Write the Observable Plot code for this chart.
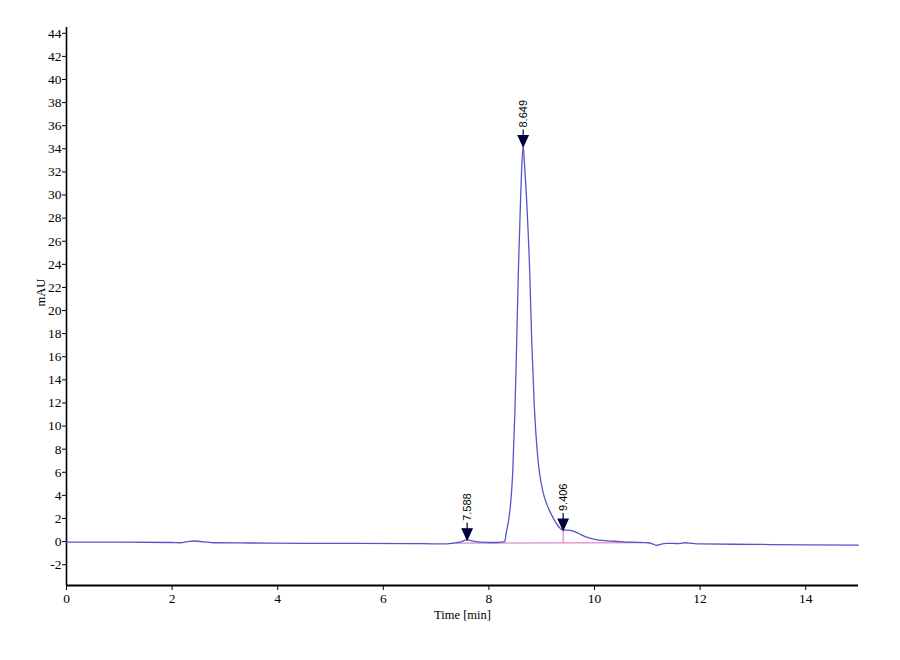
<!DOCTYPE html>
<html>
<head>
<meta charset="utf-8">
<script src="https://cdn.jsdelivr.net/npm/d3@7"></script>
<script src="https://cdn.jsdelivr.net/npm/@observablehq/plot@0.6"></script>
<style>
  html, body { margin: 0; padding: 0; background: #ffffff; }
  #chart svg { display: block; }
  #chart svg text { font-family: 'Liberation Serif', 'Times New Roman', serif !important; }
  #chart svg g[aria-label$="tick label"] text { font-size: 13.5px !important; font-variant: normal !important; }
  #chart svg text.peak-label { font-family: 'Liberation Sans', Arial, sans-serif !important; font-size: 11px !important; }
</style>
</head>
<body>
<div id="chart"></div>
<script>
// Chromatogram trace (time in min, absorbance in mAU)
const times = [
  0, 1.0, 2.0, 2.15, 2.3, 2.42, 2.6, 2.8, 3.5, 4.5, 5.5, 6.5, 7.1, 7.3, 7.45, 7.588, 7.7, 7.85, 8.0, 8.15, 8.25,
  8.30, 8.325, 8.36, 8.405, 8.45, 8.495, 8.527, 8.557, 8.595, 8.62, 8.649, 8.68, 8.722, 8.774, 8.811, 8.861, 8.925,
  9.02, 9.10, 9.178, 9.26, 9.33, 9.406, 9.5, 9.6, 9.7, 9.82, 10.0, 10.2, 10.39, 10.7, 11.02, 11.1, 11.17, 11.25,
  11.35, 11.5, 11.6, 11.72, 11.85, 12.0, 13.0, 14.0, 15.0
];
const signal = [
  -0.05, -0.05, -0.08, -0.1, 0.0, 0.05, -0.02, -0.1, -0.12, -0.15, -0.15, -0.17, -0.2, -0.15, -0.05, 0.15, 0.05, -0.05, -0.08, -0.08, -0.03,
  0.0, 0.67, 1.5, 2.97, 5.86, 11.6, 17.4, 23.2, 28.9, 32.2, 34.2, 32.2, 28.9, 23.2, 17.4, 11.6, 7.3,
  4.4, 3.2, 2.4, 1.7, 1.24, 1.0, 1.0, 0.9, 0.7, 0.43, 0.2, 0.08, 0.03, -0.05, -0.1, -0.2, -0.32, -0.25,
  -0.15, -0.15, -0.18, -0.1, -0.15, -0.2, -0.24, -0.28, -0.3
];

// Integrated peaks
const peakTimes = [7.588, 8.649, 9.406];
const peakHeights = [0.15, 34.2, 1.0];
const peakLabels = ["7.588", "8.649", "9.406"];

// Integration baseline and drop line
const baseTimes = [7.38, 10.9];
const baseValues = [-0.13, -0.1];
const dropTimes = [9.406];
const dropLow = [-0.12];
const dropHigh = [1.0];

// Axes
const xTicks = [0, 2, 4, 6, 8, 10, 12, 14];
const yTicks = [-2, 0, 2, 4, 6, 8, 10, 12, 14, 16, 18, 20, 22, 24, 26, 28, 30, 32, 34, 36, 38, 40, 42, 44];
const xDomain = [0, 15];
const yDomain = [-3.8, 44.5];

const trace = times.map((t, i) => ({t, v: signal[i]}));
const peaks = peakTimes.map((t, i) => ({t, v: peakHeights[i], label: peakLabels[i]}));
const baseline = baseTimes.map((t, i) => ({t, v: baseValues[i]}));
const drops = dropTimes.map((t, i) => ({t, y1: dropLow[i], y2: dropHigh[i]}));

const arrowSymbol = {
  draw(ctx) {
    ctx.moveTo(0, 0);
    ctx.lineTo(-5, -11);
    ctx.lineTo(5, -11);
    ctx.closePath();
    ctx.moveTo(0, -11);
    ctx.lineTo(0, -17);
  }
};

const serif = "'Liberation Serif', 'Times New Roman', serif";

const chart = Plot.plot({
  width: 900,
  height: 660,
  marginLeft: 66,
  marginRight: 42,
  marginTop: 27,
  marginBottom: 75,
  style: {fontFamily: serif, fontSize: "13px", color: "#000", background: "#ffffff"},
  x: {domain: xDomain},
  y: {domain: yDomain},
  marks: [
    Plot.axisX({ticks: xTicks, tickSize: 5, tickPadding: 3, tickFormat: d => String(d), label: null, fontSize: 13}),
    Plot.axisY({ticks: yTicks, tickSize: 4, tickPadding: 1, tickFormat: d => String(d), label: null, fontSize: 13}),
    Plot.ruleX([0], {stroke: "#000", strokeWidth: 1.6}),
    Plot.ruleY([yDomain[0]], {stroke: "#000", strokeWidth: 1.8}),
    Plot.line(baseline, {x: "t", y: "v", stroke: "#d46ab8", strokeWidth: 1}),
    Plot.ruleX(drops, {x: "t", y1: "y1", y2: "y2", stroke: "#d46ab8", strokeWidth: 1}),
    Plot.line(trace, {x: "t", y: "v", stroke: "#5555c8", strokeWidth: 1.3, curve: "monotone-x"}),
    Plot.dot(peaks, {x: "t", y: "v", symbol: arrowSymbol, fill: "#00003c", stroke: "#00003c", strokeWidth: 1.2, r: 5}),
    Plot.text(peaks, {x: "t", y: "v", text: "label", rotate: -90, textAnchor: "start", lineAnchor: "middle", dy: -19, fontSize: 11, fill: "#000"}),
    Plot.text(["Time [min]"], {frameAnchor: "bottom", dy: 29, lineAnchor: "middle", fontSize: 12.5, fill: "#000"}),
    Plot.text(["mAU"], {frameAnchor: "left", dx: -26, rotate: -90, lineAnchor: "middle", fontSize: 12.5, fill: "#000"})
  ]
});

// peak labels keep a sans face
d3.select(chart).selectAll("text").each(function () {
  const t = d3.select(this).text();
  if (peakLabels.includes(t)) d3.select(this).classed("peak-label", true);
});

document.getElementById("chart").appendChild(chart);
</script>
</body>
</html>
